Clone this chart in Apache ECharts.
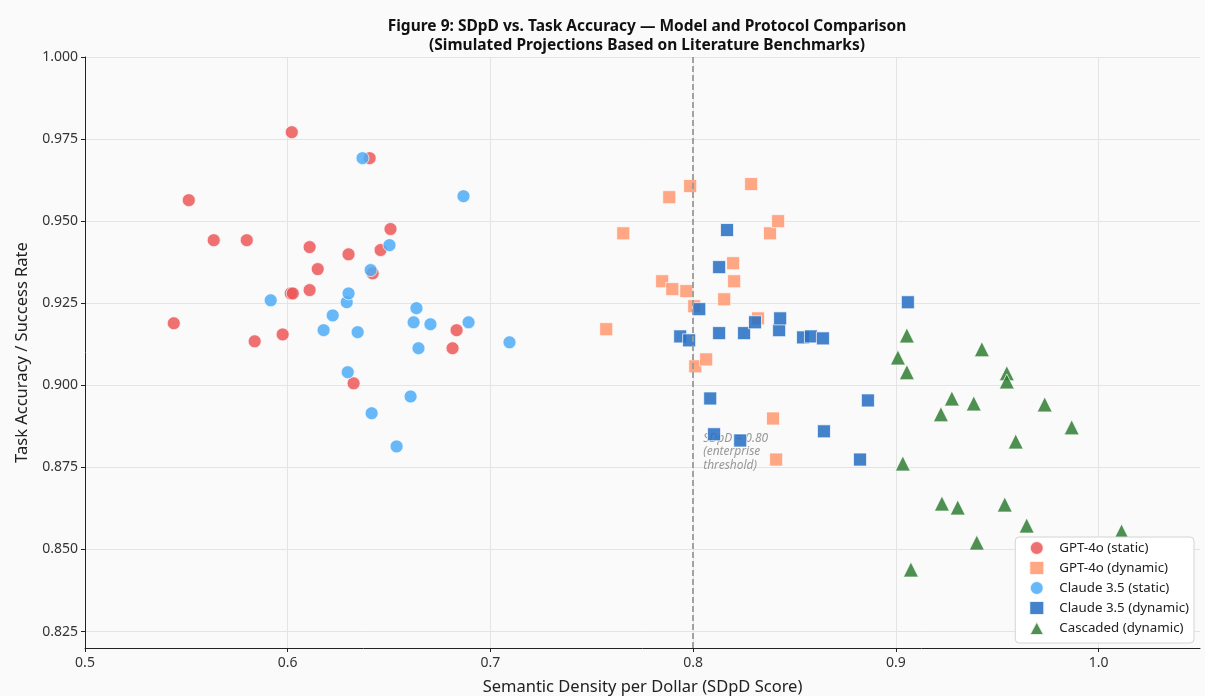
<!DOCTYPE html>
<html>
<head>
    <meta charset="utf-8" />
    <title>Figure 9: SDpD vs. Task Accuracy</title>
    <script src="https://cdn.jsdelivr.net/npm/echarts@6/dist/echarts.min.js"></script>
    <style>
        html, body { margin: 0; padding: 0; background: #fafafa; }
        #main { width: 1205px; height: 696px; }
    </style>
</head>
<body>
    <div id="main"></div>
    <script type="text/javascript">
        // tick labels
        var xTicks = [0.5, 0.6, 0.7, 0.8, 0.9, 1.0];
        var yTicks = [0.825, 0.850, 0.875, 0.900, 0.925, 0.950, 0.975, 1.000];

        var seriesNames = ['GPT-4o (static)', 'GPT-4o (dynamic)', 'Claude 3.5 (static)', 'Claude 3.5 (dynamic)', 'Cascaded (dynamic)'];

        // [SDpD, accuracy]
        var gpt4oStatic = [
            [0.5438, 0.9189], [0.5512, 0.9564], [0.5635, 0.9442], [0.5798, 0.9442], [0.5837, 0.9134],
            [0.5975, 0.9155], [0.6020, 0.9771], [0.6015, 0.9280], [0.6025, 0.9280], [0.6108, 0.9421],
            [0.6108, 0.9290], [0.6148, 0.9354], [0.6300, 0.9399], [0.6325, 0.9006], [0.6404, 0.9692],
            [0.6419, 0.9341], [0.6458, 0.9412], [0.6507, 0.9476], [0.6813, 0.9113], [0.6833, 0.9168]
        ];
        var gpt4oDynamic = [
            [0.7571, 0.9171], [0.7655, 0.9463], [0.7847, 0.9317], [0.7882, 0.9573], [0.7897, 0.9293],
            [0.7966, 0.9287], [0.7985, 0.9607], [0.8005, 0.9241], [0.8010, 0.9058], [0.8064, 0.9079],
            [0.8153, 0.9262], [0.8197, 0.9372], [0.8202, 0.9317], [0.8286, 0.9613], [0.8320, 0.9204],
            [0.8379, 0.9463], [0.8394, 0.8899], [0.8409, 0.8774], [0.8419, 0.9500]
        ];
        var claudeStatic = [
            [0.5916, 0.9259], [0.6177, 0.9168], [0.6222, 0.9213], [0.6291, 0.9253], [0.6300, 0.9280],
            [0.6296, 0.9040], [0.6345, 0.9162], [0.6369, 0.9692], [0.6409, 0.9351], [0.6414, 0.8915],
            [0.6502, 0.9427], [0.6537, 0.8814], [0.6606, 0.8966], [0.6621, 0.9192], [0.6635, 0.9235],
            [0.6645, 0.9113], [0.6704, 0.9186], [0.6867, 0.9576], [0.6892, 0.9192], [0.7094, 0.9131]
        ];
        var claudeDynamic = [
            [0.7936, 0.9149], [0.7980, 0.9137], [0.8030, 0.9232], [0.8084, 0.8960], [0.8103, 0.8851],
            [0.8128, 0.9360], [0.8128, 0.9159], [0.8167, 0.9473], [0.8232, 0.8832], [0.8251, 0.9159],
            [0.8305, 0.9192], [0.8424, 0.9168], [0.8429, 0.9204], [0.8542, 0.9146], [0.8581, 0.9149],
            [0.8640, 0.9143], [0.8645, 0.8860], [0.8823, 0.8774], [0.8862, 0.8954], [0.9059, 0.9253]
        ];
        var cascaded = [
            [0.9010, 0.9085], [0.9034, 0.8762], [0.9054, 0.9152], [0.9054, 0.9040], [0.9074, 0.8439],
            [0.9222, 0.8912], [0.9227, 0.8640], [0.9276, 0.8960], [0.9305, 0.8628], [0.9384, 0.8945],
            [0.9399, 0.8521], [0.9424, 0.9110], [0.9537, 0.8637], [0.9547, 0.9037], [0.9547, 0.9012],
            [0.9591, 0.8829], [0.9645, 0.8573], [0.9734, 0.8942], [0.9867, 0.8872], [1.0113, 0.8555]
        ];

        var threshold = 0.8;
        var thresholdNote = 'SDpD = 0.80\n(enterprise\nthreshold)';
        var notePos = [0.8, 0.8797];

        var fontFamily = 'Noto Sans';

        function markers(name, data, symbol, size, color, opacity) {
            return {
                name: name,
                type: 'scatter',
                data: data,
                symbol: symbol,
                symbolSize: size,
                z: 3,
                itemStyle: {
                    color: color,
                    opacity: opacity,
                    borderColor: '#ffffff',
                    borderWidth: 0.8
                }
            };
        }

        var myChart = echarts.init(document.getElementById('main'));
        myChart.setOption({
            animation: false,
            backgroundColor: '#fafafa',
            textStyle: { fontFamily: fontFamily },
            title: {
                text: 'Figure 9: SDpD vs. Task Accuracy \u2014 Model and Protocol Comparison\n(Simulated Projections Based on Literature Benchmarks)',
                left: 642,
                top: 12,
                textAlign: 'center',
                textStyle: {
                    fontFamily: fontFamily,
                    fontSize: 15.5,
                    fontWeight: 'bold',
                    color: '#111',
                    lineHeight: 19
                }
            },
            grid: {
                left: 85,
                right: 5,
                top: 57,
                bottom: 48,
                containLabel: false,
                outerBoundsMode: 'none'
            },
            legend: {
                data: seriesNames,
                orient: 'vertical',
                right: 11,
                bottom: 53,
                backgroundColor: '#ffffff',
                borderColor: '#d4d4d4',
                borderWidth: 1,
                borderRadius: 4,
                padding: [3, 5, 7, 13],
                itemGap: 4,
                itemWidth: 15,
                itemHeight: 14,
                textStyle: { fontFamily: fontFamily, fontSize: 13.3, color: '#222', padding: [0, 0, 0, 10] }
            },
            xAxis: {
                type: 'value',
                min: 0.5,
                max: 1.05,
                name: 'Semantic Density per Dollar (SDpD Score)',
                nameLocation: 'middle',
                nameGap: 31,
                nameTextStyle: { fontFamily: fontFamily, fontSize: 16.5, color: '#222' },
                axisLine: { show: true, lineStyle: { color: '#222', width: 1 } },
                axisTick: { show: true, length: 4, customValues: xTicks, lineStyle: { color: '#222' } },
                axisLabel: {
                    customValues: xTicks,
                    margin: 8,
                    fontSize: 14,
                    color: '#333',
                    formatter: function (v) { return v.toFixed(1); }
                },
                splitLine: { show: true, lineStyle: { color: '#e4e4e4', width: 1 } }
            },
            yAxis: {
                type: 'value',
                min: 0.82,
                max: 1.0,
                name: 'Task Accuracy / Success Rate',
                nameLocation: 'middle',
                nameGap: 54,
                nameTextStyle: { fontFamily: fontFamily, fontSize: 16.5, color: '#222' },
                axisLine: { show: true, lineStyle: { color: '#222', width: 1 } },
                axisTick: { show: true, length: 4, customValues: yTicks, lineStyle: { color: '#222' } },
                axisLabel: {
                    customValues: yTicks,
                    margin: 7,
                    fontSize: 14,
                    color: '#333',
                    formatter: function (v) { return v.toFixed(3); }
                },
                splitLine: { show: true, lineStyle: { color: '#e4e4e4', width: 1 } }
            },
            series: [
                {
                    name: 'threshold',
                    type: 'scatter',
                    data: [notePos],
                    symbolSize: 0,
                    silent: true,
                    z: 2,
                    label: {
                        show: true,
                        position: 'right',
                        distance: 10,
                        formatter: thresholdNote,
                        fontFamily: fontFamily,
                        fontSize: 12,
                        fontStyle: 'italic',
                        color: '#808080',
                        lineHeight: 13.5
                    },
                    markLine: {
                        silent: true,
                        symbol: ['none', 'none'],
                        label: { show: false },
                        lineStyle: { color: '#9a9a9a', width: 1.8, type: [6, 3] },
                        data: [{ xAxis: threshold }]
                    }
                },
                markers(seriesNames[0], gpt4oStatic, 'circle', 13, '#eb5757', 0.85),
                markers(seriesNames[1], gpt4oDynamic, 'rect', 13, '#ff9670', 0.85),
                markers(seriesNames[2], claudeStatic, 'circle', 13, '#4dabf7', 0.85),
                markers(seriesNames[3], claudeDynamic, 'rect', 13, '#2a72c5', 0.88),
                markers(seriesNames[4], cascaded, 'triangle', 15, '#2e7d32', 0.85)
            ]
        });
    </script>
</body>
</html>
